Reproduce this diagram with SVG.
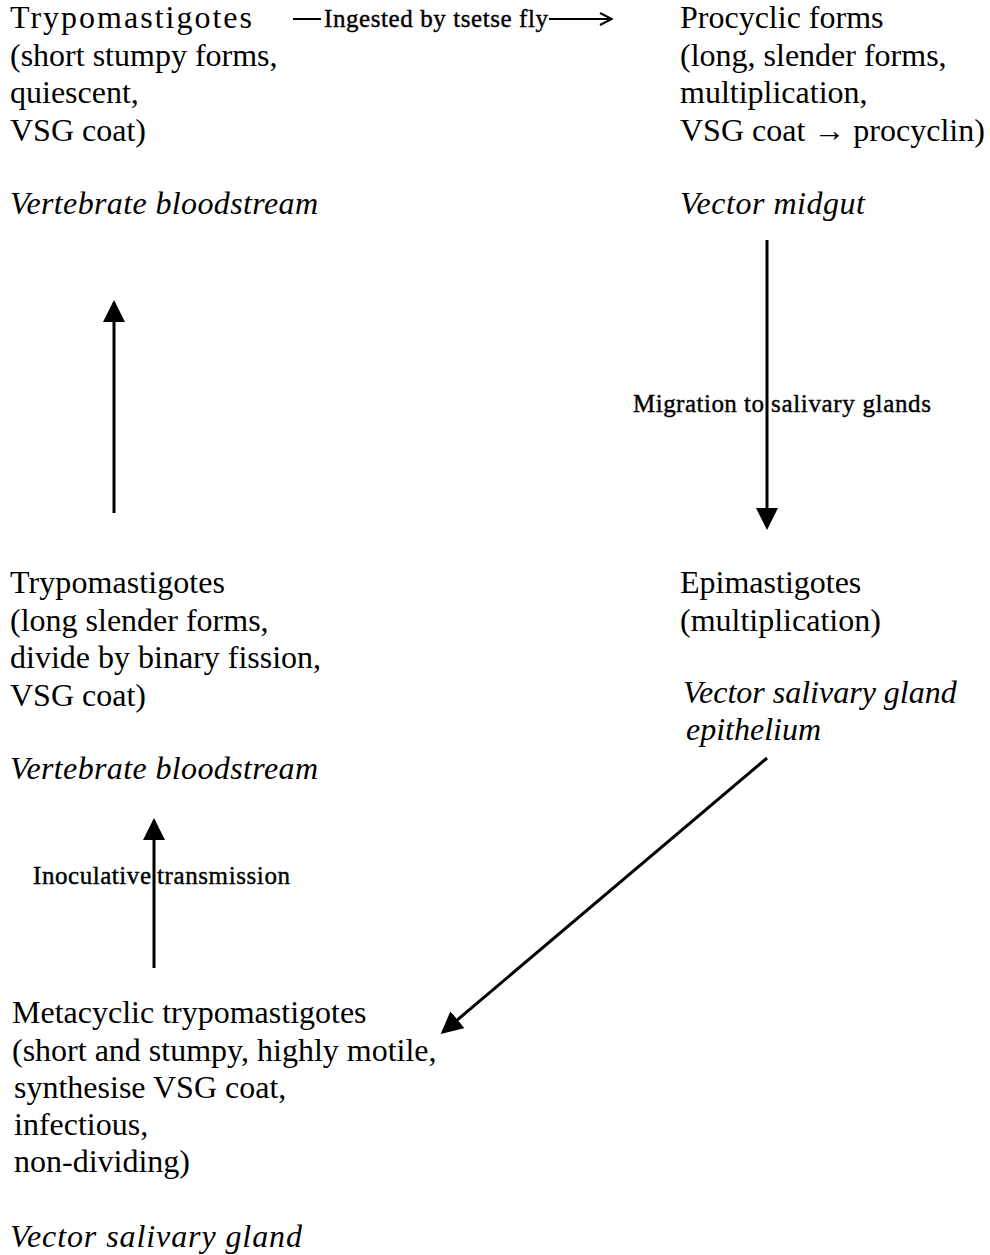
<svg xmlns="http://www.w3.org/2000/svg" width="990" height="1255" viewBox="0 0 990 1255">
<style>
.t{font-family:"Liberation Serif","Times New Roman",serif;font-size:32px;fill:#000}
.i{font-style:italic}
.l{font-family:"Liberation Serif","Times New Roman",serif;font-size:25px;fill:#000;stroke:#000;stroke-width:0.4}
.c{stroke:#000;stroke-width:3;fill:none}
</style>
<defs>
<marker id="ah" viewBox="0 0 22 22" refX="19" refY="11" markerWidth="22" markerHeight="22" markerUnits="userSpaceOnUse" orient="auto">
<path d="M0,0 L22,11 L0,22 z" fill="#000"/>
</marker>
<marker id="oa" viewBox="0 0 14 14" refX="13" refY="7" markerWidth="14" markerHeight="14" markerUnits="userSpaceOnUse" orient="auto">
<path d="M1,1 L13,7 L1,13" fill="none" stroke="#000" stroke-width="2"/>
</marker>
</defs>
<rect width="990" height="1255" fill="#fff"/>
<g id="n1">
<text class="t" x="10" y="28" textLength="242">Trypomastigotes</text>
<text class="t" x="10" y="66">(short stumpy forms,</text>
<text class="t" x="10" y="103">quiescent,</text>
<text class="t" x="10" y="141">VSG coat)</text>
<text class="t i" x="10" y="214" textLength="308">Vertebrate bloodstream</text>
</g>
<g id="n2">
<text class="t" x="680" y="28">Procyclic forms</text>
<text class="t" x="680" y="66">(long, slender forms,</text>
<text class="t" x="680" y="103">multiplication,</text>
<text class="t" x="680" y="141">VSG coat → procyclin)</text>
<text class="t i" x="680" y="214" textLength="185">Vector midgut</text>
</g>
<g id="n3">
<text class="t" x="680" y="593">Epimastigotes</text>
<text class="t" x="680" y="631">(multiplication)</text>
<text class="t i" x="683" y="703">Vector salivary gland</text>
<text class="t i" x="686" y="740">epithelium</text>
</g>
<g id="n4">
<text class="t" x="10" y="593" textLength="215">Trypomastigotes</text>
<text class="t" x="10" y="631">(long slender forms,</text>
<text class="t" x="10" y="668">divide by binary fission,</text>
<text class="t" x="10" y="706">VSG coat)</text>
<text class="t i" x="10" y="779" textLength="308">Vertebrate bloodstream</text>
</g>
<g id="n5">
<text class="t" x="12" y="1023">Metacyclic trypomastigotes</text>
<text class="t" x="12" y="1061">(short and stumpy, highly motile,</text>
<text class="t" x="14" y="1098">synthesise VSG coat,</text>
<text class="t" x="14" y="1135">infectious,</text>
<text class="t" x="14" y="1172">non-dividing)</text>
<text class="t i" x="10" y="1247" textLength="292">Vector salivary gland</text>
</g>
<g id="connectors">
<line x1="293" y1="19" x2="321" y2="19" stroke="#000" stroke-width="2"/>
<text class="l" x="324" y="27" textLength="224">Ingested by tsetse fly</text>
<line x1="549" y1="19" x2="612" y2="19" stroke="#000" stroke-width="2" marker-end="url(#oa)"/>
<line class="c" x1="767" y1="240" x2="767" y2="527" marker-end="url(#ah)"/>
<text class="l" x="633" y="412" textLength="131">Migration to</text>
<text class="l" x="771" y="412" textLength="160">salivary glands</text>
<line class="c" x1="767" y1="758" x2="443" y2="1032" marker-end="url(#ah)"/>
<line class="c" x1="154" y1="968" x2="154" y2="821" marker-end="url(#ah)"/>
<text class="l" x="33" y="884" textLength="118">Inoculative</text>
<text class="l" x="157" y="884" textLength="133">transmission</text>
<line class="c" x1="114" y1="513" x2="114" y2="303" marker-end="url(#ah)"/>
</g>
</svg>
